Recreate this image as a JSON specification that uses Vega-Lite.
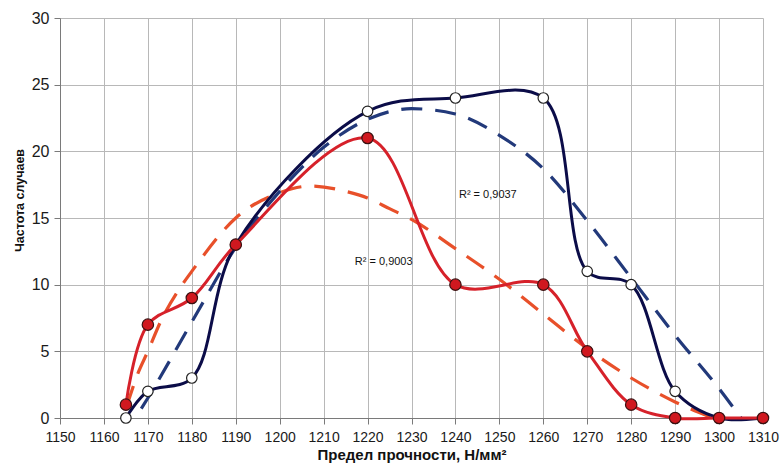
{
  "$schema": "https://vega.github.io/schema/vega-lite/v6.json",
  "width": 703,
  "height": 400,
  "autosize": {"type": "none"},
  "padding": {"left": 60, "top": 18, "right": 18, "bottom": 46},
  "background": "white",
  "config": {
    "view": {"stroke": null},
    "font": "Liberation Sans",
    "axis": {
      "gridColor": "#b8b8b8",
      "gridWidth": 1,
      "domainColor": "#7a7a7a",
      "tickColor": "#7a7a7a",
      "tickSize": 6,
      "labelColor": "#1a1a1a",
      "titleFontWeight": "bold",
      "titleColor": "#111111",
      "labelOverlap": false,
      "labelFlush": false
    }
  },
  "datasets": {
    "obs": [
      {"s": "A", "x": 1165, "y": 0},
      {"s": "A", "x": 1170, "y": 2},
      {"s": "A", "x": 1180, "y": 3},
      {"s": "A", "x": 1190, "y": 13},
      {"s": "A", "x": 1220, "y": 23},
      {"s": "A", "x": 1240, "y": 24},
      {"s": "A", "x": 1260, "y": 24},
      {"s": "A", "x": 1270, "y": 11},
      {"s": "A", "x": 1280, "y": 10},
      {"s": "A", "x": 1290, "y": 2},
      {"s": "A", "x": 1300, "y": 0},
      {"s": "A", "x": 1310, "y": 0},
      {"s": "B", "x": 1165, "y": 1},
      {"s": "B", "x": 1170, "y": 7},
      {"s": "B", "x": 1180, "y": 9},
      {"s": "B", "x": 1190, "y": 13},
      {"s": "B", "x": 1220, "y": 21},
      {"s": "B", "x": 1240, "y": 10},
      {"s": "B", "x": 1260, "y": 10},
      {"s": "B", "x": 1270, "y": 5},
      {"s": "B", "x": 1280, "y": 1},
      {"s": "B", "x": 1290, "y": 0},
      {"s": "B", "x": 1300, "y": 0},
      {"s": "B", "x": 1310, "y": 0}
    ],
    "trend": [
      {"s": "A", "x": 1168.5, "y": 0.7},
      {"s": "A", "x": 1170, "y": 1.5},
      {"s": "A", "x": 1180, "y": 7.2},
      {"s": "A", "x": 1190, "y": 12.8},
      {"s": "A", "x": 1200, "y": 17.0},
      {"s": "A", "x": 1210, "y": 20.3},
      {"s": "A", "x": 1220, "y": 22.4},
      {"s": "A", "x": 1230, "y": 23.2},
      {"s": "A", "x": 1240, "y": 22.8},
      {"s": "A", "x": 1250, "y": 21.2},
      {"s": "A", "x": 1260, "y": 18.7},
      {"s": "A", "x": 1270, "y": 14.8},
      {"s": "A", "x": 1280, "y": 10.5},
      {"s": "A", "x": 1290, "y": 6.2},
      {"s": "A", "x": 1300, "y": 2.2},
      {"s": "A", "x": 1305, "y": 0},
      {"s": "B", "x": 1165.2, "y": 0.9},
      {"s": "B", "x": 1167.8, "y": 3.4},
      {"s": "B", "x": 1170, "y": 5.0},
      {"s": "B", "x": 1173, "y": 7.3},
      {"s": "B", "x": 1177, "y": 9.6},
      {"s": "B", "x": 1180, "y": 11.0},
      {"s": "B", "x": 1190, "y": 15.0},
      {"s": "B", "x": 1200, "y": 16.9},
      {"s": "B", "x": 1207, "y": 17.4},
      {"s": "B", "x": 1215, "y": 17.0},
      {"s": "B", "x": 1220, "y": 16.5},
      {"s": "B", "x": 1225, "y": 15.7},
      {"s": "B", "x": 1230, "y": 14.9},
      {"s": "B", "x": 1240, "y": 12.7},
      {"s": "B", "x": 1250, "y": 10.4},
      {"s": "B", "x": 1260, "y": 7.8},
      {"s": "B", "x": 1270, "y": 5.2},
      {"s": "B", "x": 1280, "y": 3.0},
      {"s": "B", "x": 1290, "y": 1.2},
      {"s": "B", "x": 1298.6, "y": 0}
    ],
    "labels": [
      {"x": 1240.8, "y": 16.7, "t": "R² = 0,9037"},
      {"x": 1217.1, "y": 11.7, "t": "R² = 0,9003"}
    ]
  },
  "encoding": {
    "x": {
      "field": "x", "type": "quantitative",
      "scale": {"domain": [1150, 1310], "nice": false, "zero": false},
      "axis": {
        "values": [1150,1160,1170,1180,1190,1200,1210,1220,1230,1240,1250,1260,1270,1280,1290,1300,1310],
        "format": "d",
        "title": "Предел прочности, Н/мм²",
        "labelFontSize": 14,
        "labelPadding": 6,
        "titleFontSize": 15,
        "titlePadding": 3
      }
    },
    "y": {
      "field": "y", "type": "quantitative",
      "scale": {"domain": [0, 30], "nice": false},
      "axis": {
        "values": [0, 5, 10, 15, 20, 25, 30],
        "title": "Частота случаев",
        "labelFontSize": 16,
        "labelPadding": 5,
        "titleFontSize": 12.5,
        "titleAngle": -90,
        "titleAlign": "center",
        "titleBaseline": "middle",
        "titleX": -41,
        "titleY": 182
      }
    }
  },
  "layer": [
    {
      "data": {"name": "trend"},
      "transform": [{"filter": "datum.s === 'A'"}],
      "mark": {"type": "line", "interpolate": "monotone", "color": "#22397a", "strokeWidth": 3.2, "strokeDash": [21, 13]}
    },
    {
      "data": {"name": "trend"},
      "transform": [{"filter": "datum.s === 'B'"}],
      "mark": {"type": "line", "interpolate": "monotone", "color": "#e8502a", "strokeWidth": 3.2, "strokeDash": [21, 13]}
    },
    {
      "data": {"name": "obs"},
      "transform": [{"filter": "datum.s === 'A'"}],
      "mark": {"type": "line", "interpolate": "catmull-rom", "color": "#0b0c48", "strokeWidth": 3}
    },
    {
      "data": {"name": "obs"},
      "transform": [{"filter": "datum.s === 'B'"}],
      "mark": {"type": "line", "interpolate": "catmull-rom", "color": "#d6212a", "strokeWidth": 3}
    },
    {
      "data": {"name": "obs"},
      "transform": [{"filter": "datum.s === 'A' && datum.x < 1300"}],
      "mark": {"type": "point", "filled": true, "fill": "white", "stroke": "#222222", "strokeWidth": 1.2, "size": 110, "opacity": 1}
    },
    {
      "data": {"name": "obs"},
      "transform": [{"filter": "datum.s === 'B'"}],
      "mark": {"type": "point", "filled": true, "fill": "#d0181f", "stroke": "#3a1010", "strokeWidth": 1.2, "size": 130, "opacity": 1}
    },
    {
      "data": {"name": "labels"},
      "mark": {"type": "text", "align": "left", "baseline": "middle", "fontSize": 11, "color": "#111111"},
      "encoding": {"text": {"field": "t"}}
    }
  ]
}
